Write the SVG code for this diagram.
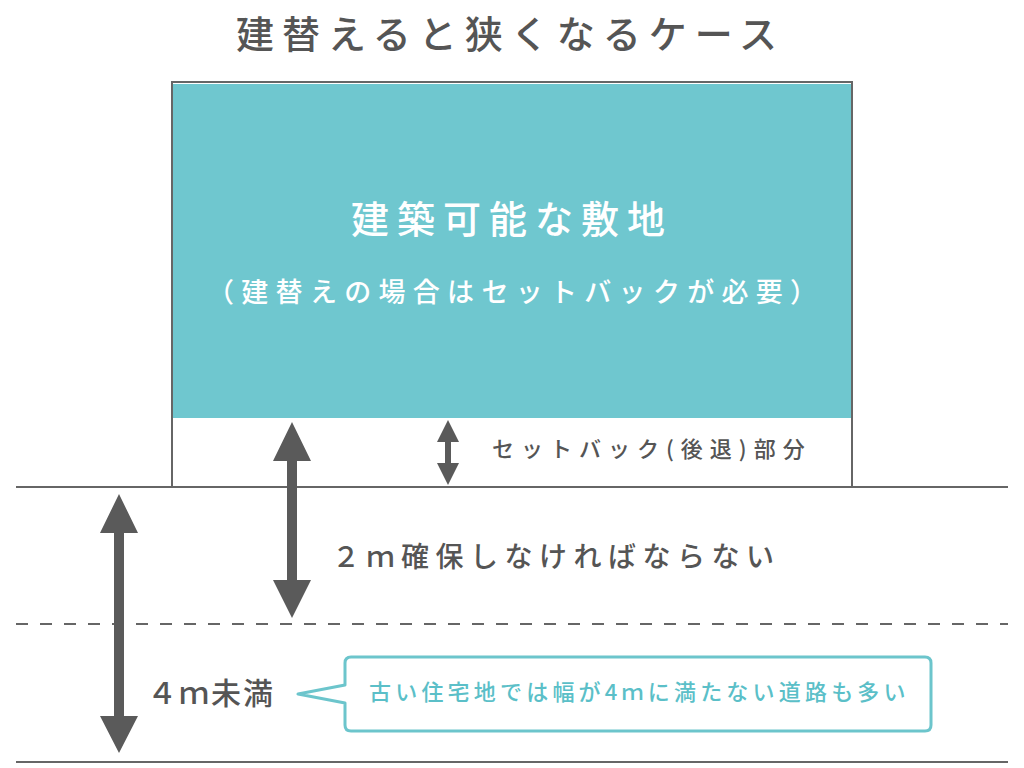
<svg xmlns="http://www.w3.org/2000/svg" width="1024" height="768" viewBox="0 0 1024 768">
<style>
.t{font-family:"Noto Sans CJK JP","Noto Sans",sans-serif;font-weight:500}
.gray{fill:#555}
.line{stroke:#666;stroke-width:2;fill:none}
.arrow{fill:#5a5a5a}
</style>
<rect width="1024" height="768" fill="#fff"/>
<text class="t gray" x="236" y="48" font-size="38" letter-spacing="8">建替えると狭くなるケース</text>
<g id="site">
<rect x="172" y="82" width="680" height="405" fill="#fff" stroke="#666" stroke-width="2"/>
<rect x="173" y="84" width="678" height="334" fill="#6fc7cf"/>
<text class="t" x="351" y="233" font-size="38" font-weight="700" fill="#fff" letter-spacing="8">建築可能な敷地</text>
<text class="t" x="207" y="302" font-size="27" fill="#fff" letter-spacing="7.3">（建替えの場合はセットバックが必要）</text>
</g>
<g id="roads">
<line class="line" x1="16" y1="487" x2="1008" y2="487"/>
<line class="line" x1="16" y1="624" x2="1008" y2="624" stroke-dasharray="12 12"/>
<line class="line" x1="16" y1="762" x2="1008" y2="762"/>
</g>
<g id="connectors">
<polygon class="arrow" points="119,494 138,533 124,533 124,716 138,716 119,753 100,716 114,716 114,533 100,533"/>
<polygon class="arrow" points="292,422 311,461 297,461 297,580 311,580 292,618 273,580 287,580 287,461 273,461"/>
<polygon class="arrow" points="448,420 459,442 451,442 451,463 459,463 448,485 437,463 445,463 445,442 437,442"/>
</g>
<g id="label-setback">
<text class="t gray" x="492" y="457" font-size="22" letter-spacing="7">セットバック(後退)部分</text>
</g>
<g id="label-2m">
<text class="t gray" x="332" y="567" font-size="28" letter-spacing="6.5">２ｍ確保しなければならない</text>
</g>
<g id="label-4m">
<text class="t gray" x="147" y="704" font-size="30" letter-spacing="2">４ｍ未満</text>
</g>
<g id="callout">
<path d="M351,657 H925 Q931,657 931,663 V725 Q931,731 925,731 H351 Q345,731 345,725 V703 L298,694 L345,685 V663 Q345,657 351,657 Z" fill="#fff" stroke="#6cc5cc" stroke-width="3" stroke-linejoin="round"/>
<text class="t" x="369" y="700" font-size="22" fill="#5bbfc8" letter-spacing="4.2">古い住宅地では幅が4ｍに満たない道路も多い</text>
</g>
</svg>
